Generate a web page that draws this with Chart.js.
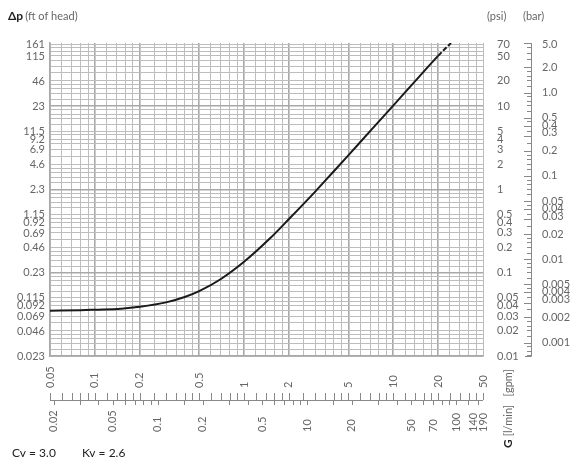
<!DOCTYPE html>
<html>
<head>
<meta charset="utf-8">
<script src="https://cdn.jsdelivr.net/npm/chart.js@4.4.1/dist/chart.umd.min.js"></script>
<style>
  html, body { margin: 0; background: #fff; }
</style>
</head>
<body>
<canvas id="chart" width="571" height="461"></canvas>
<script>
// flow curve: G in gpm, dp in psi
const flowGpm = [0.05, 0.08, 0.1, 0.15, 0.2, 0.3, 0.4, 0.5, 0.7, 1, 1.5, 2, 3, 4, 5, 7, 10, 15, 20, 24.4];
const dpPsi   = [0.035, 0.0355, 0.036, 0.037, 0.039, 0.044, 0.051, 0.06, 0.084, 0.135, 0.26, 0.44, 0.94, 1.65, 2.55, 5.0, 10.1, 22.7, 40, 57];
const DASH_FROM = 20; // gpm, the curve is dashed above this

// axis ranges
const X_MIN = 0.05, X_MAX = 40;     // gpm
const Y_MIN = 0.01, Y_MAX = 57;     // psi
const LPM_PER_GPM = 3.785;
const PSI_PER_BAR = 14.504;
const FT_PER_PSI = 2.307;

// grid lines (gpm / psi)
const gpmGrid = [0.05, 0.06, 0.07, 0.08, 0.09, 0.1, 0.12, 0.14, 0.16, 0.18, 0.2, 0.25, 0.3, 0.35, 0.4, 0.45,
  0.5, 0.6, 0.7, 0.8, 0.9, 1, 1.2, 1.4, 1.6, 1.8, 2, 2.5, 3, 3.5, 4, 4.5, 5, 6, 7, 8, 9, 10, 12, 14, 16, 18,
  20, 24, 28, 32, 36, 40];
const gpmMajor = [0.1, 0.2, 0.5, 1, 2, 5, 10, 20];
const psiGrid = [0.01, 0.012, 0.014, 0.016, 0.018, 0.02, 0.025, 0.03, 0.035, 0.04, 0.045, 0.05, 0.06, 0.07, 0.08,
  0.09, 0.1, 0.12, 0.14, 0.16, 0.18, 0.2, 0.25, 0.3, 0.35, 0.4, 0.45, 0.5, 0.6, 0.7, 0.8, 0.9, 1, 1.2, 1.4, 1.6,
  1.8, 2, 2.5, 3, 3.5, 4, 4.5, 5, 6, 7, 8, 9, 10, 12, 14, 16, 18, 20, 25, 30, 35, 40, 45, 50, 55];
const psiMajor = [0.1, 1, 10];

// tick labels
const ftTicks = [0.023, 0.046, 0.069, 0.092, 0.115, 0.23, 0.46, 0.69, 0.92, 1.15, 2.3, 4.6, 6.9, 9.2, 11.5, 23, 46, 115, 161];
const psiTicks = [0.01, 0.02, 0.03, 0.04, 0.05, 0.1, 0.2, 0.3, 0.4, 0.5, 1, 2, 3, 4, 5, 10, 20, 50, 70];
const barTicks = ['0.001', '0.002', '0.003', '0.004', '0.005', '0.01', '0.02', '0.03', '0.04', '0.05',
  '0.1', '0.2', '0.3', '0.4', '0.5', '1.0', '2.0', '5.0'];
const barMinor = [0.0007, 0.0008, 0.0009, 0.001, 0.0012, 0.0014, 0.0016, 0.0018, 0.002, 0.0025, 0.003, 0.0035,
  0.004, 0.0045, 0.005, 0.006, 0.007, 0.008, 0.009, 0.01, 0.012, 0.014, 0.016, 0.018, 0.02, 0.025, 0.03, 0.035,
  0.04, 0.045, 0.05, 0.06, 0.07, 0.08, 0.09, 0.1, 0.12, 0.14, 0.16, 0.18, 0.2, 0.25, 0.3, 0.35, 0.4, 0.45, 0.5,
  0.6, 0.7, 0.8, 0.9, 1, 1.2, 1.4, 1.6, 1.8, 2, 2.5, 3, 3.5];
const gpmLabels = ['0.05', '0.1', '0.2', '0.5', '1', '2', '5', '10', '20', '50'];
const lpmLabels = ['0.02', '0.05', '0.1', '0.2', '0.5', '10', '20', '50', '70', '100', '140', '190'];
const lpmAt     = [0.2, 0.5, 1, 2, 5, 10, 20, 50, 70, 100, 140, 190]; // l/min where each label sits
const lpmMinor = [0.2, 0.3, 0.4, 0.5, 0.6, 0.7, 0.8, 0.9, 1, 1.5, 2, 3, 4, 5, 6, 7, 8, 9, 10, 15, 20, 30, 40, 50,
  60, 70, 80, 90, 100, 120, 140];

const FONT = 'Lato, "Open Sans", sans-serif';
const GRID = '#bdbdbd';
const GRID_MAJOR = '#a8a8a8';
const TXT = '#666';
const LINE_H = 12;   // spacing of labels squeezed against the top edge
const STACK_H = 7.5; // spacing of the 0.005/0.004/0.003 style bar stacks

// labels that would leave the plot at the top are pushed down one under the other
function topSafe(pys, top) {
  const order = pys.map((p, i) => i).sort((i, j) => pys[i] - pys[j]);
  const out = pys.slice();
  order.forEach((i, k) => { out[i] = Math.max(pys[i], top + 1 + LINE_H * k); });
  return out;
}

const extras = {
  id: 'extras',
  afterDraw(chart) {
    const { ctx, chartArea: a, scales } = chart;
    const { x, y, xl, yb } = scales;
    ctx.save();
    ctx.fillStyle = TXT;
    ctx.strokeStyle = '#888';
    ctx.lineWidth = 1;
    ctx.font = '11px ' + FONT;

    // left: ft of head
    ctx.textAlign = 'right';
    ctx.textBaseline = 'middle';
    const ftY = topSafe(ftTicks.map((v) => y.getPixelForValue(v / FT_PER_PSI)), a.top);
    ftTicks.forEach((v, i) => ctx.fillText(String(v), a.left - 5, ftY[i]));

    // right: psi
    ctx.textAlign = 'left';
    const psiY = topSafe(psiTicks.map((v) => y.getPixelForValue(v)), a.top);
    psiTicks.forEach((v, i) => ctx.fillText(String(v), a.right + 14, psiY[i]));

    // bar axis, ticks point left
    const bx = a.right + 48;
    const barPy = (v) => Math.max(yb.getPixelForValue(v), a.top);
    ctx.beginPath();
    ctx.moveTo(bx + 0.5, a.top);
    ctx.lineTo(bx + 0.5, a.bottom + 0.5);
    ctx.lineTo(bx - 6, a.bottom + 0.5);
    barMinor.forEach((v) => {
      const py = Math.round(barPy(v)) + 0.5;
      ctx.moveTo(bx + 0.5, py);
      ctx.lineTo(bx - 4, py);
    });
    barTicks.forEach((t) => {
      const py = Math.round(barPy(parseFloat(t))) + 0.5;
      ctx.moveTo(bx + 0.5, py);
      ctx.lineTo(bx - 7, py);
    });
    ctx.stroke();
    const barY = topSafe(barTicks.map((t) => yb.getPixelForValue(parseFloat(t))), a.top);
    let stackTop = null;
    barTicks.slice().reverse().forEach((t) => {
      const i = barTicks.indexOf(t);
      let py = barY[i];
      const lead = t.replace(/[0.]/g, '');
      if (lead === '5' && t !== '5.0') stackTop = py;
      else if ((lead === '4' || lead === '3') && stackTop !== null) {
        py = stackTop + STACK_H * (lead === '4' ? 1 : 2);
      } else stackTop = null;
      ctx.fillText(t, bx + 11, py);
    });

    // bottom double axis: gpm above the line, l/min below
    const ay = a.bottom + 44;
    ctx.beginPath();
    ctx.moveTo(x.getPixelForValue(X_MIN), ay + 0.5);
    ctx.lineTo(x.getPixelForValue(X_MAX), ay + 0.5);
    gpmGrid.forEach((v) => {
      const px = Math.round(x.getPixelForValue(v)) + 0.5;
      ctx.moveTo(px, ay);
      ctx.lineTo(px, ay - 7);
    });
    lpmMinor.forEach((v) => {
      const px = Math.round(xl.getPixelForValue(v)) + 0.5;
      if (px > a.right + 1) return;
      ctx.moveTo(px, ay);
      ctx.lineTo(px, ay + 5);
    });
    ctx.stroke();

    ctx.textBaseline = 'middle';
    ctx.textAlign = 'left';
    gpmLabels.forEach((t) => {
      const px = x.getPixelForValue(Math.min(parseFloat(t), X_MAX));
      ctx.save();
      ctx.translate(px, ay - 12);
      ctx.rotate(-Math.PI / 2);
      ctx.fillText(t, 0, 0);
      ctx.restore();
    });
    // crowded labels at the right end are pushed left
    const lpmX = lpmAt.map((v) => xl.getPixelForValue(Math.min(v, X_MAX * LPM_PER_GPM)));
    for (let i = lpmX.length - 1, k = 0; i >= 0; i--, k++) lpmX[i] = Math.min(lpmX[i], a.right - 10 * k);
    lpmLabels.forEach((t, i) => {
      ctx.save();
      ctx.translate(lpmX[i], ay + 32);
      ctx.rotate(-Math.PI / 2);
      ctx.fillText(t, 0, 0);
      ctx.restore();
    });

    // axis names
    ctx.save();
    ctx.translate(a.right + 25, ay + 48);
    ctx.rotate(-Math.PI / 2);
    ctx.font = 'bold 12px ' + FONT;
    ctx.fillStyle = '#222';
    ctx.fillText('G', 0, 0);
    const gw = ctx.measureText('G ').width;
    ctx.font = '11px ' + FONT;
    ctx.fillStyle = TXT;
    ctx.fillText('[l/min]   [gpm]', gw, 0);
    ctx.restore();

    ctx.textBaseline = 'alphabetic';
    ctx.font = 'bold 12px ' + FONT;
    ctx.fillStyle = '#222';
    ctx.fillText('Δp', 8, 20);
    const dw = ctx.measureText('Δp').width;
    ctx.font = '11px ' + FONT;
    ctx.fillStyle = TXT;
    ctx.fillText('(ft of head)', 8 + dw + 2, 20);
    ctx.fillText('(psi)', a.right + 4, 20);
    ctx.fillText('(bar)', a.right + 40, 20);

    ctx.font = '12px ' + FONT;
    ctx.fillStyle = '#222';
    ctx.fillText('Cv = 3.0', 12, 457);
    ctx.fillText('Kv = 2.6', 82, 457);
    ctx.restore();
  }
};

new Chart(document.getElementById('chart'), {
  type: 'scatter',
  data: {
    datasets: [{
      data: flowGpm.map((g, i) => ({ x: g, y: dpPsi[i] })),
      showLine: true,
      borderColor: '#1a1a1a',
      borderWidth: 2,
      pointRadius: 0,
      cubicInterpolationMode: 'monotone',
      segment: {
        borderDash: (c) => (c.p0.parsed.x >= DASH_FROM ? [5, 2] : undefined),
      },
    }],
  },
  options: {
    responsive: false,
    animation: false,
    layout: { padding: { left: 50, right: 88, top: 43, bottom: 105 } },
    plugins: { legend: { display: false }, tooltip: { enabled: false } },
    scales: {
      x: {
        type: 'logarithmic',
        min: X_MIN,
        max: X_MAX,
        afterBuildTicks: (s) => { s.ticks = gpmGrid.map((v) => ({ value: v })); },
        ticks: { display: false },
        grid: {
          drawTicks: false,
          color: (c) => (gpmMajor.includes(c.tick.value) ? GRID_MAJOR : GRID),
          lineWidth: (c) => (gpmMajor.includes(c.tick.value) ? 1.6 : 1),
        },
        border: { color: GRID_MAJOR, width: 1.5 },
      },
      y: {
        type: 'logarithmic',
        min: Y_MIN,
        max: Y_MAX,
        afterBuildTicks: (s) => { s.ticks = psiGrid.map((v) => ({ value: v })); },
        ticks: { display: false },
        grid: {
          drawTicks: false,
          color: (c) => (psiMajor.includes(c.tick.value) ? GRID_MAJOR : GRID),
          lineWidth: (c) => (psiMajor.includes(c.tick.value) ? 1.6 : 1),
        },
        border: { color: GRID_MAJOR, width: 1.5 },
      },
      xl: {
        type: 'logarithmic',
        display: false,
        min: X_MIN * LPM_PER_GPM,
        max: X_MAX * LPM_PER_GPM,
      },
      yb: {
        type: 'logarithmic',
        display: false,
        min: Y_MIN / PSI_PER_BAR,
        max: Y_MAX / PSI_PER_BAR,
      },
    },
  },
  plugins: [extras],
});
</script>
</body>
</html>
